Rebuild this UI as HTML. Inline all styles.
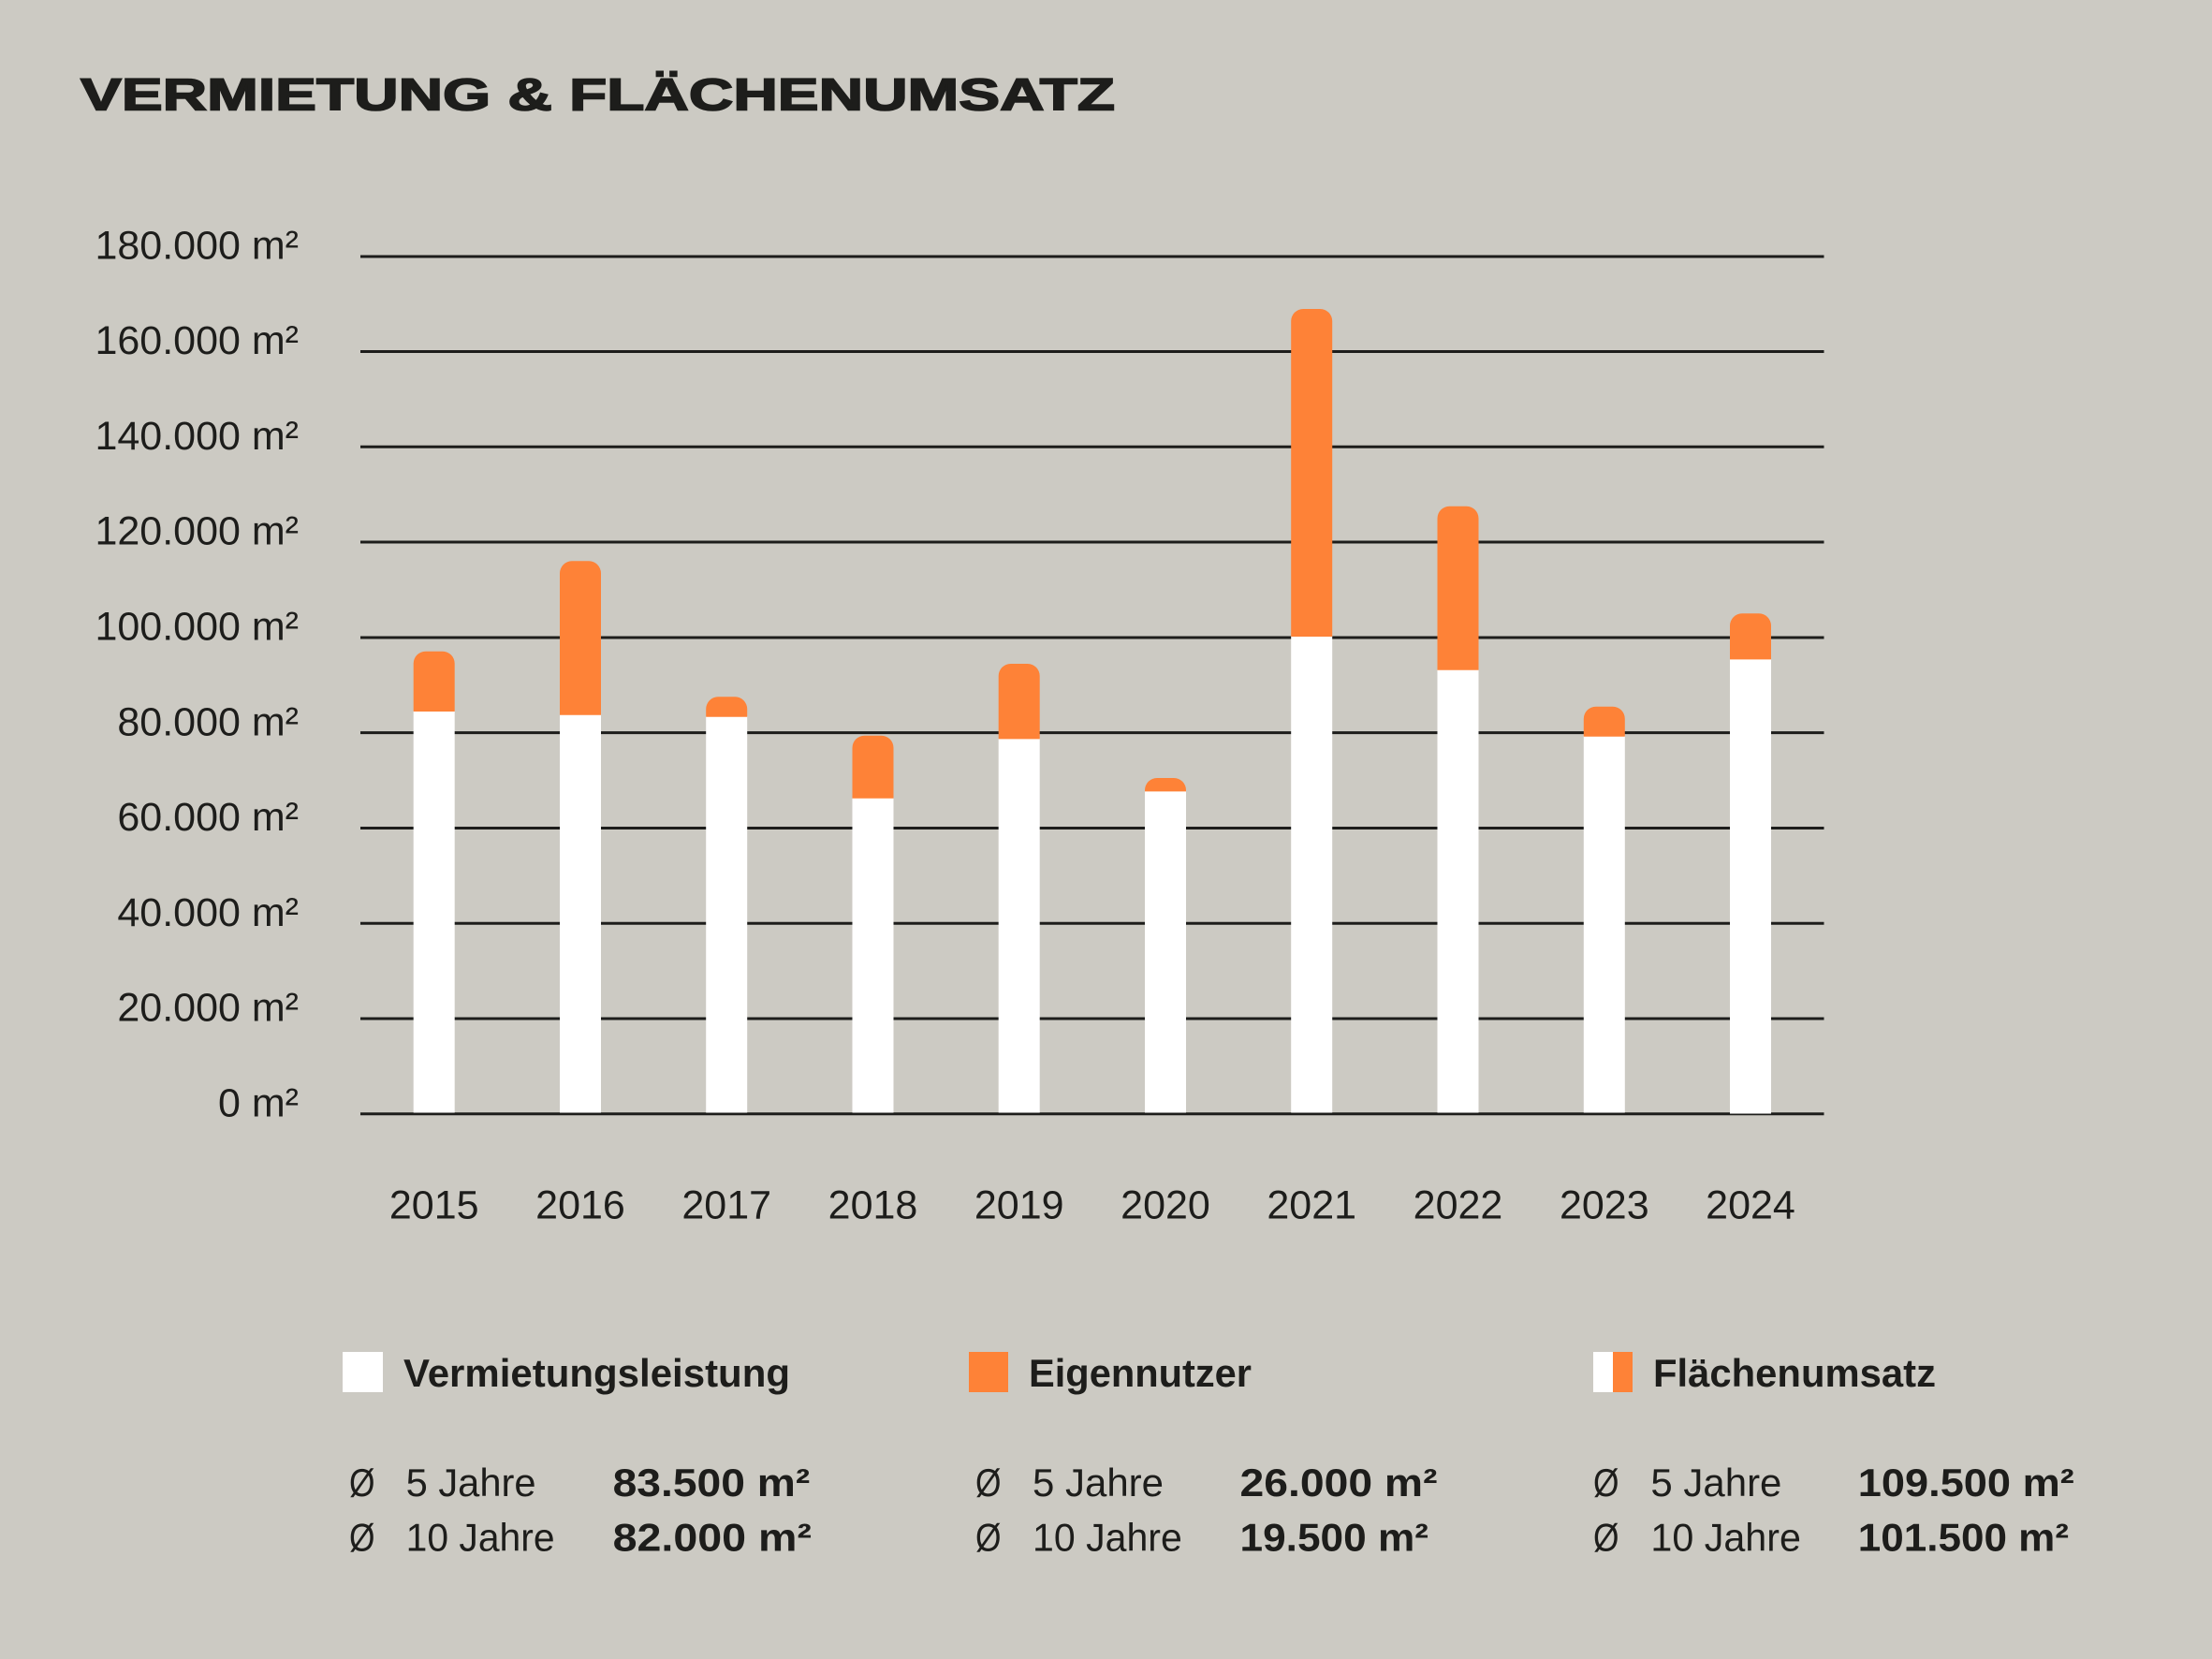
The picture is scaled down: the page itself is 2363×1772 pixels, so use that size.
<!DOCTYPE html>
<html><head><meta charset="utf-8"><style>
html,body{margin:0;padding:0;background:#cccac3;}
svg{display:block;}
text{font-family:"Liberation Sans",sans-serif;fill:#1d1d1b;}
.b{font-weight:bold;}
</style></head><body>
<svg width="2363" height="1772" viewBox="0 0 2363 1772" xmlns="http://www.w3.org/2000/svg">
<rect width="2363" height="1772" fill="#cccac3"/>
<text x="86" y="117.5" class="b" font-size="48" textLength="1105" lengthAdjust="spacingAndGlyphs" stroke="#1d1d1b" stroke-width="1.6">VERMIETUNG &amp; FLÄCHENUMSATZ</text>
<g stroke="#1d1d1b" stroke-width="3">
<line x1="385" x2="1948.5" y1="1189.8" y2="1189.8"/>
<line x1="385" x2="1948.5" y1="1088.0" y2="1088.0"/>
<line x1="385" x2="1948.5" y1="986.3" y2="986.3"/>
<line x1="385" x2="1948.5" y1="884.5" y2="884.5"/>
<line x1="385" x2="1948.5" y1="782.6" y2="782.6"/>
<line x1="385" x2="1948.5" y1="681.0" y2="681.0"/>
<line x1="385" x2="1948.5" y1="579.0" y2="579.0"/>
<line x1="385" x2="1948.5" y1="477.2" y2="477.2"/>
<line x1="385" x2="1948.5" y1="375.5" y2="375.5"/>
<line x1="385" x2="1948.5" y1="274" y2="274"/>
</g>
<g font-size="43" text-anchor="end">
<text x="319" y="1192.5">0 m²</text>
<text x="319" y="1090.7">20.000 m²</text>
<text x="319" y="989">40.000 m²</text>
<text x="319" y="887.2">60.000 m²</text>
<text x="319" y="785.3">80.000 m²</text>
<text x="319" y="683.7">100.000 m²</text>
<text x="319" y="581.7">120.000 m²</text>
<text x="319" y="479.9">140.000 m²</text>
<text x="319" y="378.2">160.000 m²</text>
<text x="319" y="276.5">180.000 m²</text>
</g>
<g id="bars">
<rect x="441.7" y="759.3" width="44" height="429.2" fill="#fff"/>
<path d="M441.7 760 V708.7 a13 13 0 0 1 13 -13 h18 a13 13 0 0 1 13 13 V760 Z" fill="#fe8237"/>
<rect x="598" y="763" width="44" height="425.5" fill="#fff"/>
<path d="M598 763.7 V612.3 a13 13 0 0 1 13 -13 h18 a13 13 0 0 1 13 13 V763.7 Z" fill="#fe8237"/>
<rect x="754.2" y="765" width="44" height="423.5" fill="#fff"/>
<path d="M754.2 765.7 V757.3 a13 13 0 0 1 13 -13 h18 a13 13 0 0 1 13 13 V765.7 Z" fill="#fe8237"/>
<rect x="910.5" y="852" width="44" height="336.5" fill="#fff"/>
<path d="M910.5 852.7 V798.7 a13 13 0 0 1 13 -13 h18 a13 13 0 0 1 13 13 V852.7 Z" fill="#fe8237"/>
<rect x="1066.7" y="788.7" width="44" height="399.8" fill="#fff"/>
<path d="M1066.7 789.4 V722 a13 13 0 0 1 13 -13 h18 a13 13 0 0 1 13 13 V789.4 Z" fill="#fe8237"/>
<rect x="1223" y="844.7" width="44" height="343.8" fill="#fff"/>
<path d="M1223 845.4 V844 a13 13 0 0 1 13 -13 h18 a13 13 0 0 1 13 13 V845.4 Z" fill="#fe8237"/>
<rect x="1379.2" y="679.3" width="44" height="509.2" fill="#fff"/>
<path d="M1379.2 680 V343 a13 13 0 0 1 13 -13 h18 a13 13 0 0 1 13 13 V680 Z" fill="#fe8237"/>
<rect x="1535.5" y="715" width="44" height="473.5" fill="#fff"/>
<path d="M1535.5 715.7 V553.7 a13 13 0 0 1 13 -13 h18 a13 13 0 0 1 13 13 V715.7 Z" fill="#fe8237"/>
<rect x="1691.8" y="786" width="44" height="402.5" fill="#fff"/>
<path d="M1691.8 786.7 V767.7 a13 13 0 0 1 13 -13 h18 a13 13 0 0 1 13 13 V786.7 Z" fill="#fe8237"/>
<rect x="1848" y="703.7" width="44" height="485.8" fill="#fff"/>
<path d="M1848 704.4 V668.3 a13 13 0 0 1 13 -13 h18 a13 13 0 0 1 13 13 V704.4 Z" fill="#fe8237"/>
</g>
<g font-size="43" text-anchor="middle">
<text x="463.7" y="1301.7">2015</text>
<text x="620" y="1301.7">2016</text>
<text x="776.2" y="1301.7">2017</text>
<text x="932.5" y="1301.7">2018</text>
<text x="1088.7" y="1301.7">2019</text>
<text x="1245" y="1301.7">2020</text>
<text x="1401.2" y="1301.7">2021</text>
<text x="1557.5" y="1301.7">2022</text>
<text x="1713.8" y="1301.7">2023</text>
<text x="1870" y="1301.7">2024</text>
</g>
<rect x="366" y="1444" width="43" height="43" fill="#fff"/>
<text x="431" y="1481" class="b" font-size="42" textLength="413" lengthAdjust="spacingAndGlyphs">Vermietungsleistung</text>
<rect x="1035" y="1444" width="42" height="43" fill="#fe8237"/>
<text x="1099" y="1481" class="b" font-size="42" textLength="238" lengthAdjust="spacingAndGlyphs">Eigennutzer</text>
<rect x="1702" y="1444" width="21" height="43" fill="#fff"/>
<rect x="1723" y="1444" width="21" height="43" fill="#fe8237"/>
<text x="1766" y="1481" class="b" font-size="42" textLength="302" lengthAdjust="spacingAndGlyphs">Flächenumsatz</text>

<g font-size="42">
<text x="373" y="1598" textLength="27.5" lengthAdjust="spacingAndGlyphs">Ø</text>
<text x="433.6" y="1598" textLength="139" lengthAdjust="spacingAndGlyphs">5 Jahre</text>
<text x="654.6" y="1598" class="b" textLength="210.7" lengthAdjust="spacingAndGlyphs">83.500 m²</text>
<text x="373" y="1656.7" textLength="27.5" lengthAdjust="spacingAndGlyphs">Ø</text>
<text x="433.6" y="1656.7" textLength="159" lengthAdjust="spacingAndGlyphs">10 Jahre</text>
<text x="654.6" y="1656.7" class="b" textLength="212.4" lengthAdjust="spacingAndGlyphs">82.000 m²</text>

<text x="1042" y="1598" textLength="27.5" lengthAdjust="spacingAndGlyphs">Ø</text>
<text x="1103" y="1598" textLength="140" lengthAdjust="spacingAndGlyphs">5 Jahre</text>
<text x="1324.5" y="1598" class="b" textLength="211" lengthAdjust="spacingAndGlyphs">26.000 m²</text>
<text x="1042" y="1656.7" textLength="27.5" lengthAdjust="spacingAndGlyphs">Ø</text>
<text x="1103" y="1656.7" textLength="159.8" lengthAdjust="spacingAndGlyphs">10 Jahre</text>
<text x="1324.5" y="1656.7" class="b" textLength="201.5" lengthAdjust="spacingAndGlyphs">19.500 m²</text>

<text x="1702" y="1598" textLength="27.5" lengthAdjust="spacingAndGlyphs">Ø</text>
<text x="1763.4" y="1598" textLength="140" lengthAdjust="spacingAndGlyphs">5 Jahre</text>
<text x="1984.8" y="1598" class="b" textLength="231" lengthAdjust="spacingAndGlyphs">109.500 m²</text>
<text x="1702" y="1656.7" textLength="27.5" lengthAdjust="spacingAndGlyphs">Ø</text>
<text x="1763.4" y="1656.7" textLength="160.5" lengthAdjust="spacingAndGlyphs">10 Jahre</text>
<text x="1984.8" y="1656.7" class="b" textLength="225.2" lengthAdjust="spacingAndGlyphs">101.500 m²</text>
</g>
</svg>
</body></html>
